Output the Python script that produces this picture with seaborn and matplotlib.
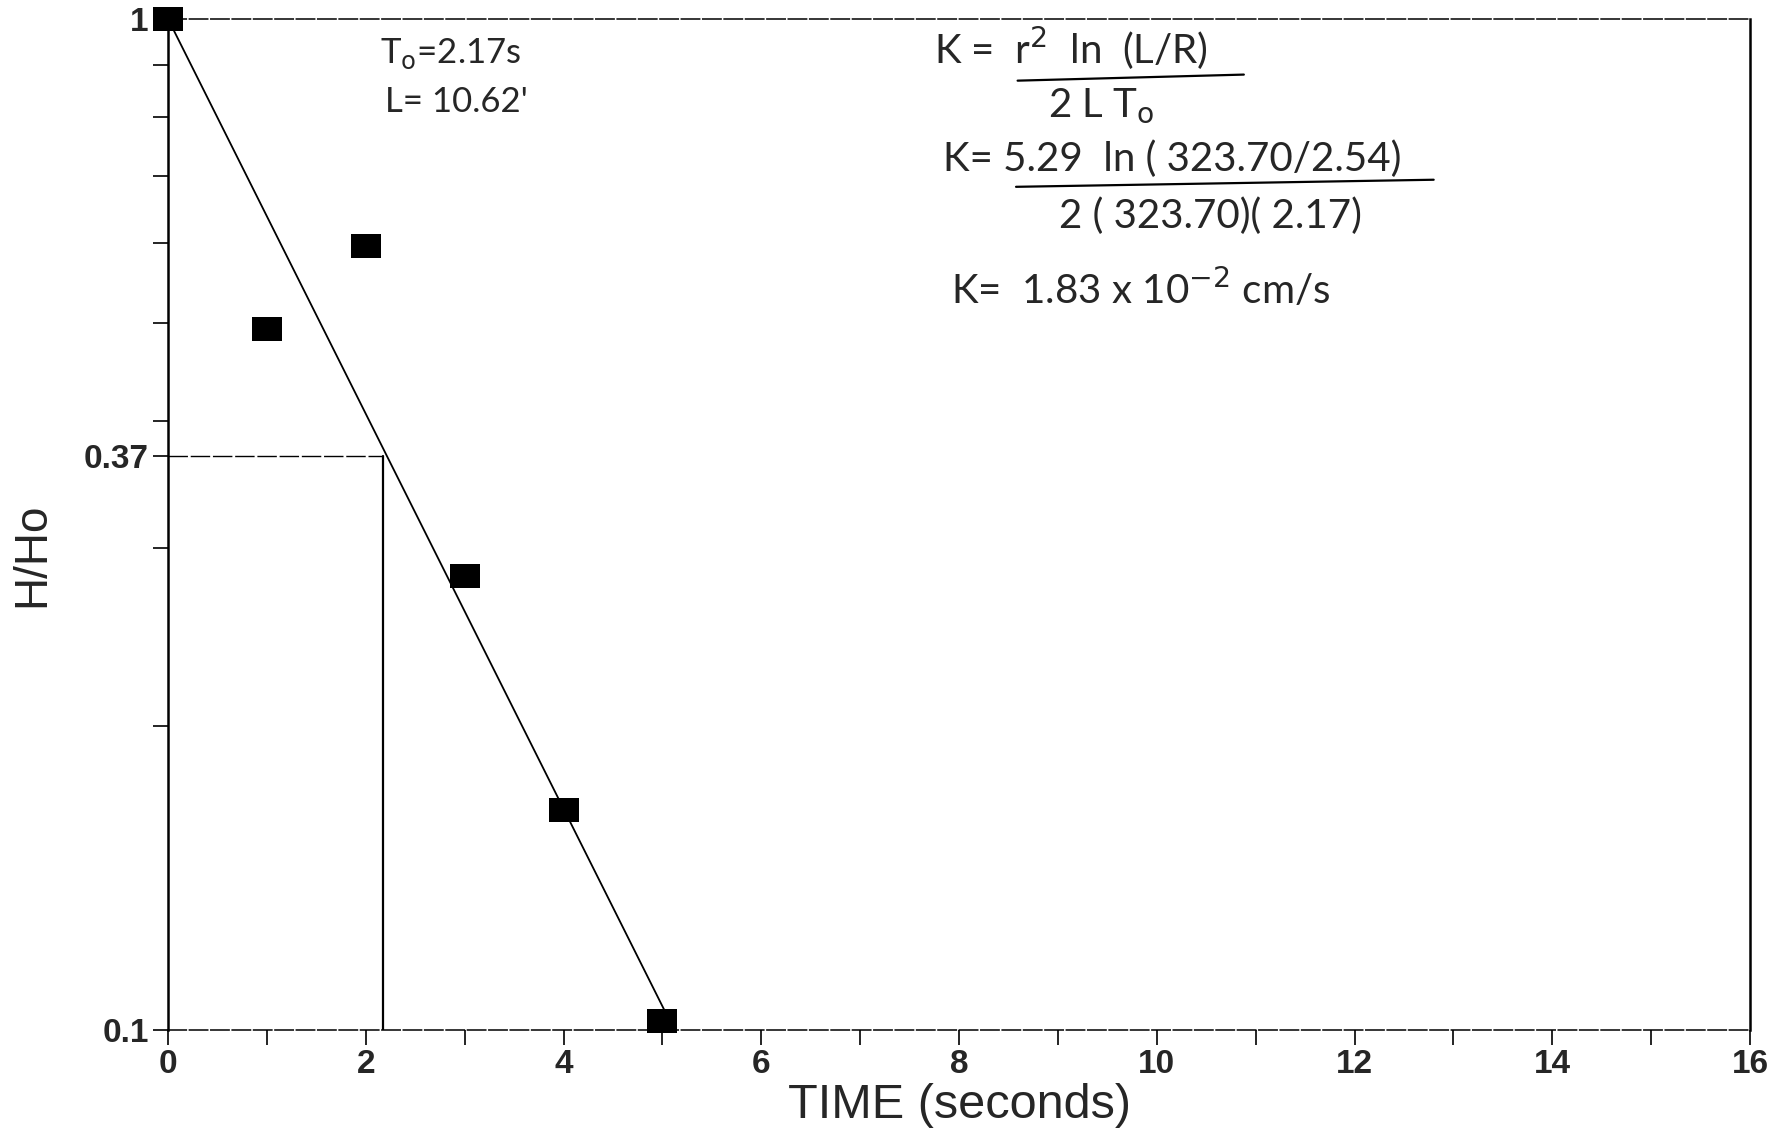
import numpy as np
import pandas as pd
import matplotlib
matplotlib.use("Agg")
import matplotlib.pyplot as plt
from matplotlib.ticker import FixedLocator, NullFormatter
from matplotlib.lines import Line2D
import seaborn as sns

# Slug test recovery: normalised head vs elapsed time
time_s = [0, 1, 2, 3, 4, 5]
h_ratio = [1.0, 0.494, 0.596, 0.281, 0.165, 0.102]

# Straight-line fit on the semi-log plot
fit_time = [0.0, 5.12]
fit_ratio = [1.0, 0.1]

# Basic time lag T0 read where H/Ho = 0.37
t0 = 2.17
h_t0 = 0.37

x_ticks = [0, 2, 4, 6, 8, 10, 12, 14, 16]
x_minor = [1, 3, 5, 7, 9, 11, 13, 15]
y_ticks = [0.1, 0.37, 1.0]
y_tick_labels = ["0.1", "0.37", "1"]
y_minor = [0.2, 0.3, 0.4, 0.5, 0.6, 0.7, 0.8, 0.9]

sns.set_theme(style="white")
plt.rcParams["font.family"] = ["Liberation Sans", "DejaVu Sans"]

fig = plt.figure(figsize=(17.9, 11.3), dpi=100)
ax = fig.add_axes([0.0939, 0.0885, 0.8838, 0.8947])

df = pd.DataFrame({"t": time_s, "h": h_ratio})
fit = pd.DataFrame({"t": fit_time, "h": fit_ratio})

ax.set_yscale("log")
ax.set_xlim(0, 16)
ax.set_ylim(0.1, 1.0)

# fitted decay line
sns.lineplot(data=fit, x="t", y="h", ax=ax, color="black", linewidth=1.3,
             estimator=None, sort=False, zorder=3)

# T0 construction lines
sns.lineplot(x=[0, t0], y=[h_t0, h_t0], ax=ax, color="black", linewidth=1.0,
             linestyle=(0, (14, 2)), estimator=None, sort=False, zorder=2)
sns.lineplot(x=[t0, t0], y=[0.1, h_t0], ax=ax, color="black", linewidth=1.6,
             estimator=None, sort=False, zorder=2)

# measured points as filled rectangles
rect = [(-1, -0.8), (1, -0.8), (1, 0.8), (-1, 0.8), (-1, -0.8)]
sns.scatterplot(data=df, x="t", y="h", ax=ax, marker=rect, s=470,
                color="black", edgecolor="black", linewidth=0, zorder=5,
                clip_on=False)

# axes styling
for side in ["left", "right"]:
    ax.spines[side].set_linewidth(1.8)
    ax.spines[side].set_color("black")
for side in ["top", "bottom"]:
    ax.spines[side].set_linewidth(1.1)
    ax.spines[side].set_color("black")
    ax.spines[side].set_linestyle((0, (12, 2)))

ax.xaxis.set_major_locator(FixedLocator(x_ticks))
ax.xaxis.set_minor_locator(FixedLocator(x_minor))
ax.yaxis.set_major_locator(FixedLocator(y_ticks))
ax.yaxis.set_minor_locator(FixedLocator(y_minor))
ax.set_yticklabels(y_tick_labels)
ax.yaxis.set_minor_formatter(NullFormatter())

ax.tick_params(axis="both", which="both", direction="out", color="black",
               width=1.2, length=11, bottom=True, left=True, top=False,
               right=False)
ax.tick_params(axis="x", which="major", labelsize=24, pad=3)
ax.tick_params(axis="y", which="major", labelsize=24, pad=3)
for lbl in ax.get_xticklabels() + ax.get_yticklabels():
    lbl.set_fontweight("bold")

ax.set_xlabel("TIME (seconds)", fontsize=35)
ax.set_ylabel("H/Ho", fontsize=33)
ax.xaxis.set_label_coords(0.5, -0.052)
ax.yaxis.set_label_coords(-0.072, 0.47)
ax.grid(False)

# hand annotations
note_font = ["Lato", "DejaVu Sans"]
ax.text(0.134, 0.966, "T$_\\mathrm{o}$=2.17s", transform=ax.transAxes,
        fontsize=25, va="center", ha="left", family=note_font)
ax.text(0.137, 0.918, "L= 10.62'", transform=ax.transAxes,
        fontsize=25, va="center", ha="left", family=note_font)

ax.text(0.484, 0.955, "K =  r$^2$  ln  (L/R)", transform=ax.transAxes,
        fontsize=29, va="baseline", ha="left", family=note_font)
ax.add_line(Line2D([0.537, 0.680], [0.939, 0.945], transform=ax.transAxes,
                   color="black", linewidth=1.6))
ax.text(0.590, 0.914, "2 L T$_\\mathrm{o}$", transform=ax.transAxes,
        fontsize=29, va="center", ha="center", family=note_font)

ax.text(0.490, 0.850, "K= 5.29  ln ( 323.70/2.54)", transform=ax.transAxes,
        fontsize=29, va="baseline", ha="left", family=note_font)
ax.add_line(Line2D([0.536, 0.800], [0.834, 0.841], transform=ax.transAxes,
                   color="black", linewidth=1.6))
ax.text(0.659, 0.805, "2 ( 323.70)( 2.17)", transform=ax.transAxes,
        fontsize=29, va="center", ha="center", family=note_font)

ax.text(0.495, 0.732, "K=  1.83 x 10$^{-2}$ cm/s", transform=ax.transAxes,
        fontsize=29, va="center", ha="left", family=note_font)

fig.savefig("out.png", dpi=100)
